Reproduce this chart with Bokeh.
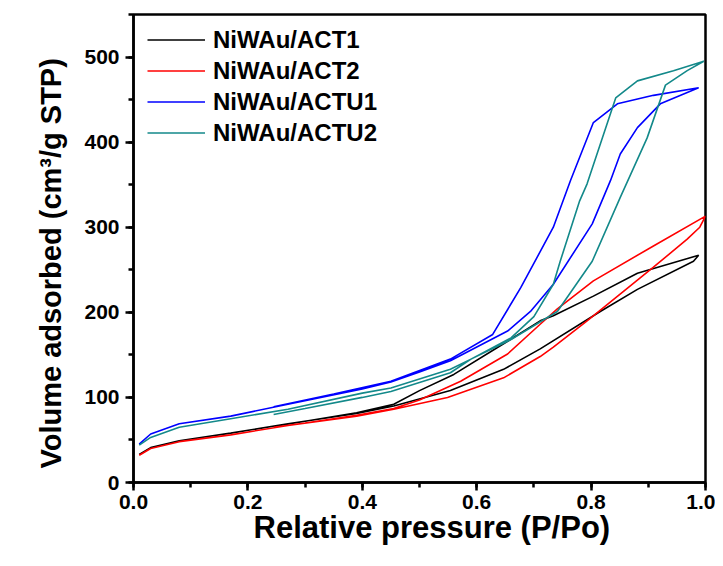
from bokeh.plotting import figure
from bokeh.models import Range1d, Legend, LegendItem, SingleIntervalTicker, CustomJSTickFormatter, Title
from bokeh.embed import file_html
from bokeh.resources import INLINE

# ---- data ----
series_names = ["NiWAu/ACT1", "NiWAu/ACT2", "NiWAu/ACTU1", "NiWAu/ACTU2"]
series_colors = ["#000000", "#FF0000", "#0000FF", "#13898A"]

act1_ads_x = [0.01, 0.03, 0.08, 0.17, 0.27, 0.39, 0.455, 0.554, 0.647, 0.711, 0.816, 0.881, 0.979, 0.988]
act1_ads_y = [33, 41, 49, 58, 69, 81, 90, 108, 133, 157, 201, 227, 260, 267]
act1_des_x = [0.988, 0.881, 0.804, 0.734, 0.711, 0.647, 0.56, 0.5, 0.455, 0.39, 0.3, 0.245]
act1_des_y = [267, 246, 219, 196, 190, 163, 127, 108, 92, 82, 72, 66]

act2_ads_x = [0.01, 0.03, 0.08, 0.17, 0.27, 0.39, 0.455, 0.549, 0.647, 0.711, 0.734, 0.793, 0.909, 0.968, 0.99, 1.0]
act2_ads_y = [32, 40, 48, 56, 67, 78, 86, 100, 123, 148, 159, 190, 253, 286, 300, 313]
act2_des_x = [1.0, 0.909, 0.804, 0.741, 0.711, 0.654, 0.572, 0.5, 0.455, 0.39, 0.3, 0.245]
act2_des_y = [313, 278, 237, 204, 186, 151, 119, 97, 87, 79, 70, 65]

actu1_ads_x = [0.01, 0.03, 0.08, 0.17, 0.27, 0.4, 0.45, 0.5, 0.554, 0.654, 0.694, 0.734, 0.802, 0.834, 0.851, 0.881, 0.921, 0.988]
actu1_ads_y = [45, 57, 69, 78, 92, 110, 118, 130, 143, 178, 201, 233, 304, 355, 386, 417, 445, 464]
actu1_des_x = [0.988, 0.909, 0.846, 0.804, 0.764, 0.734, 0.677, 0.628, 0.554, 0.45, 0.35, 0.245]
actu1_des_y = [464, 455, 445, 423, 355, 300, 229, 174, 145, 119, 104, 89]

actu2_ads_x = [0.01, 0.03, 0.08, 0.17, 0.27, 0.4, 0.45, 0.554, 0.59, 0.66, 0.741, 0.802, 0.851, 0.898, 0.93, 0.968, 0.997]
actu2_ads_y = [44, 53, 65, 75, 86, 105, 111, 133, 145, 168, 201, 260, 335, 405, 467, 484, 495]
actu2_des_x = [0.997, 0.944, 0.881, 0.843, 0.793, 0.78, 0.746, 0.734, 0.70, 0.66, 0.59, 0.554, 0.45, 0.4, 0.3, 0.245]
actu2_des_y = [495, 484, 472, 452, 351, 331, 260, 233, 195, 170, 145, 129, 107, 100, 87, 80]

x_ticks_interval = 0.2
y_ticks_interval = 100
x_label = "Relative pressure (P/Po)"
y_label = "Volume adsorbed (cm³/g STP)"

series = [
    (act1_ads_x + act1_des_x, act1_ads_y + act1_des_y),
    (act2_ads_x + act2_des_x, act2_ads_y + act2_des_y),
    (actu1_ads_x + actu1_des_x, actu1_ads_y + actu1_des_y),
    (actu2_ads_x + actu2_des_x, actu2_ads_y + actu2_des_y),
]

FONT = "Liberation Sans"
FRAME_H = 468

p = figure(
    frame_width=572, frame_height=FRAME_H,
    x_range=Range1d(0, 1.0), y_range=Range1d(0, 550),
    output_backend="svg", toolbar_location=None,
    min_border_left=133, min_border_right=10, min_border_top=14, min_border_bottom=66,
)
p.background_fill_color = "white"
p.border_fill_color = "white"
p.grid.visible = False
p.outline_line_color = "black"
p.outline_line_width = 2.5

items = []
for (xs, ys), name, col in zip(series, series_names, series_colors):
    r = p.line(xs, ys, line_color=col, line_width=1.6)
    items.append(LegendItem(label=name, renderers=[r]))

legend = Legend(items=items, location=(14, FRAME_H - 10 - 124))
legend.label_text_font = FONT
legend.label_text_font_style = "bold"
legend.label_text_font_size = "24px"
legend.label_text_color = "black"
legend.glyph_width = 58
legend.glyph_height = 31
legend.label_height = 31
legend.spacing = 0
legend.label_standoff = 8
legend.margin = 0
legend.padding = 0
legend.border_line_color = None
legend.background_fill_alpha = 0
p.add_layout(legend)

for ax in (p.xaxis[0], p.yaxis[0]):
    ax.axis_line_width = 2.5
    ax.major_tick_line_width = 2.5
    ax.minor_tick_line_width = 2.5
    ax.major_tick_in = 0
    ax.major_tick_out = 8
    ax.minor_tick_in = 0
    ax.minor_tick_out = 5
    ax.major_label_text_font = FONT
    ax.major_label_text_font_style = "bold"
    ax.major_label_text_font_size = "21px"
    ax.major_label_text_color = "black"

p.xaxis.ticker = SingleIntervalTicker(interval=x_ticks_interval, num_minor_ticks=2)
p.yaxis.ticker = SingleIntervalTicker(interval=y_ticks_interval, num_minor_ticks=2)
p.xaxis.formatter = CustomJSTickFormatter(code="return tick.toFixed(1);")
p.xaxis.major_label_standoff = 4
p.yaxis.major_label_standoff = 6

xt = Title(text=x_label, align="left", offset=120, standoff=-8,
           text_font=FONT, text_font_style="bold", text_font_size="31px",
           text_color="black")
p.add_layout(xt, "below")
yt = Title(text=y_label, align="left", offset=14, standoff=30,
           text_font=FONT, text_font_style="bold", text_font_size="29px",
           text_color="black")
p.add_layout(yt, "left")

open("out.html", "w").write(file_html(p, INLINE))
